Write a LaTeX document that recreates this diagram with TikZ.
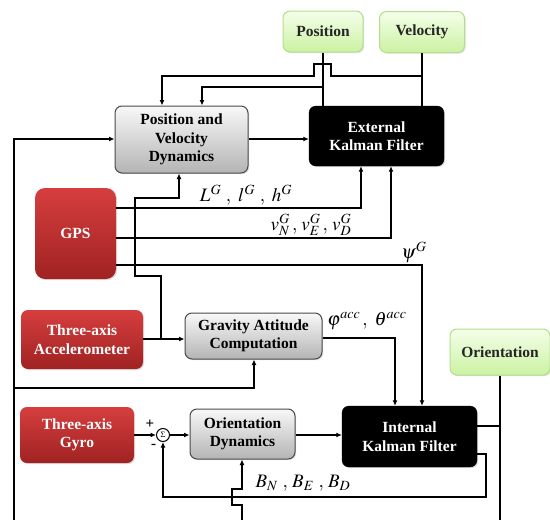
\documentclass[tikz,border=0pt]{standalone}
\usepackage{mathptmx}
\usepackage{fontspec}
\setmainfont{Liberation Serif}
\usetikzlibrary{arrows.meta,shadows}
\definecolor{redT}{HTML}{D63E3E}
\definecolor{redB}{HTML}{A02222}
\definecolor{grayT}{HTML}{F8F8F8}
\definecolor{grayB}{HTML}{B4B4B4}
\definecolor{grayD}{HTML}{4A4A4A}
\definecolor{greenT}{HTML}{F5FFEA}
\definecolor{greenB}{HTML}{CBF2A2}
\definecolor{greenD}{HTML}{B4DE8C}
\tikzset{
  boxfont/.style={font=\fontsize{15.5}{18.5}\selectfont\bfseries},
  basebox/.style={boxfont, align=center, inner sep=0pt, rounded corners=7pt,
     drop shadow={opacity=0.25, shadow xshift=1.2pt, shadow yshift=-1.2pt}},
  redbox/.style={basebox, top color=redT, bottom color=redB, text=white, draw=none},
  graybox/.style={basebox, top color=grayT, bottom color=grayB, draw=grayD, line width=1pt, text=black},
  blackbox/.style={basebox, fill=black, draw=black, text=white},
  greenbox/.style={basebox, top color=greenT, bottom color=greenB, draw=greenD, line width=1pt, text=black!85},
  conn/.style={line width=1.7pt, black},
  arr/.style={conn, -{Latex[length=5.5pt,width=5pt]}},
  mlabel/.style={font=\fontsize{19}{20}\selectfont, inner sep=0pt},
  signlabel/.style={font=\fontsize{15}{15}\selectfont\bfseries, inner sep=0pt},
  sumnode/.style={circle, draw, line width=1pt, fill=white, minimum size=13pt, inner sep=0pt, font=\fontsize{8}{8}\selectfont}
}
\begin{document}
\begin{tikzpicture}[x=1pt,y=-1pt]
\useasboundingbox (0,0) rectangle (550,520);
% nodes
\node[greenbox, minimum width=80pt, minimum height=41pt] (pos) at (323,31.5) {Position};
\node[greenbox, minimum width=85pt, minimum height=41pt] (vel) at (422,32) {Velocity};
\node[graybox, minimum width=133pt, minimum height=67pt] (pvd) at (181.5,139.5) {Position and\\Velocity\\Dynamics};
\node[blackbox, minimum width=135pt, minimum height=60pt] (ekf) at (376.5,136) {External\\Kalman Filter};
\node[redbox, minimum width=81pt, minimum height=91pt, rounded corners=10pt] (gps) at (75.5,233.5) {GPS};
\node[redbox, minimum width=122pt, minimum height=59pt] (acc) at (82,339.5) {Three-axis\\Accelerometer};
\node[graybox, minimum width=137pt, minimum height=46pt] (gac) at (253.5,336) {Gravity Attitude\\Computation};
\node[greenbox, minimum width=100pt, minimum height=46pt] (ori) at (500,352) {Orientation};
\node[redbox, minimum width=114pt, minimum height=56pt] (gyro) at (77,435) {Three-axis\\Gyro};
\node[sumnode] (sum) at (163,435) {$\Sigma$};
\node[graybox, minimum width=105pt, minimum height=50pt] (od) at (242.5,434) {Orientation\\Dynamics};
\node[blackbox, minimum width=135pt, minimum height=61pt] (ikf) at (409.5,436.5) {Internal\\Kalman Filter};
% free ends at the bottom edge
\coordinate (lbot) at (14,520);
\coordinate (bbot) at (242,520);
\coordinate (obot) at (500,520);
% top feedback lines
\draw[conn] (pos.south) -- (ekf.north -| pos.south);
\draw[conn] (vel.south) -- (ekf.north -| vel.south);
\draw[arr] (pos.south |- 0,87) -| (pvd.north -| 202,0);
\draw[arr] (vel.south |- 0,76) -- (331,76) -- (331,64) -- (314,64) -- (314,76) -| (pvd.north -| 162,0);
\draw[arr] (pvd.east |- 0,139) -- (ekf.west |- 0,139);
% left long line
\draw[arr] (lbot) -- (14,139) -- (pvd.west |- 0,139);
\draw[arr] (14,388) -| (gac.south -| 254,0);
% GPS outputs
\draw[arr] (gps.east |- 0,208) -| (ekf.south -| 361,0);
\draw[arr] (gps.east |- 0,238) -| (ekf.south -| 391,0);
\draw[arr] (gps.east |- 0,265) -| (ikf.north -| 422,0);
\node[mlabel] (lab1) at (246,195) {$L^G\ ,\ l^G\ ,\ h^G$};
\node[mlabel] (lab2) at (311,225) {$v_N^G\,,\,v_E^G\,,\,v_D^G$};
\node[mlabel] (lab3) at (414,252) {$\psi^G$};
% accelerometer
\draw[arr] (acc.east |- 0,339) -- (gac.west |- 0,339);
\draw[arr] (161,339) -- (161,276) -- (135,276) -- (135,198) -- (179,198) -- (pvd.south -| 179,0);
\draw[arr] (gac.east |- 0,338) -| (ikf.north -| 395,0);
\node[mlabel] (lab4) at (367,321) {$\varphi^{acc}\,,\ \theta^{acc}$};
% gyro loop
\draw[arr] (gyro.east |- 0,435) -- (sum.west);
\draw[arr] (sum.east) -- (od.west |- sum.east);
\draw[arr] (od.east |- 0,435) -- (ikf.west |- 0,435);
\node[signlabel] (plus) at (150,424) {+};
\node[signlabel] (minus) at (153.5,446) {-};
\draw[conn] (ikf.east |- 0,426) -- (500,426);
\draw[conn] (ori.south) -- (obot);
\draw[arr] (ikf.east |- 0,454) -- (486,454) -- (486,497) -| (sum.south);
\draw[arr] (bbot) -- (242,505) -- (232,505) -- (232,489) -- (242,489) -- (od.south -| 242,0);
\node[mlabel] (lab5) at (303,483) {$B_N\ ,\, B_E\ ,\, B_D$};
\end{tikzpicture}
\end{document}
